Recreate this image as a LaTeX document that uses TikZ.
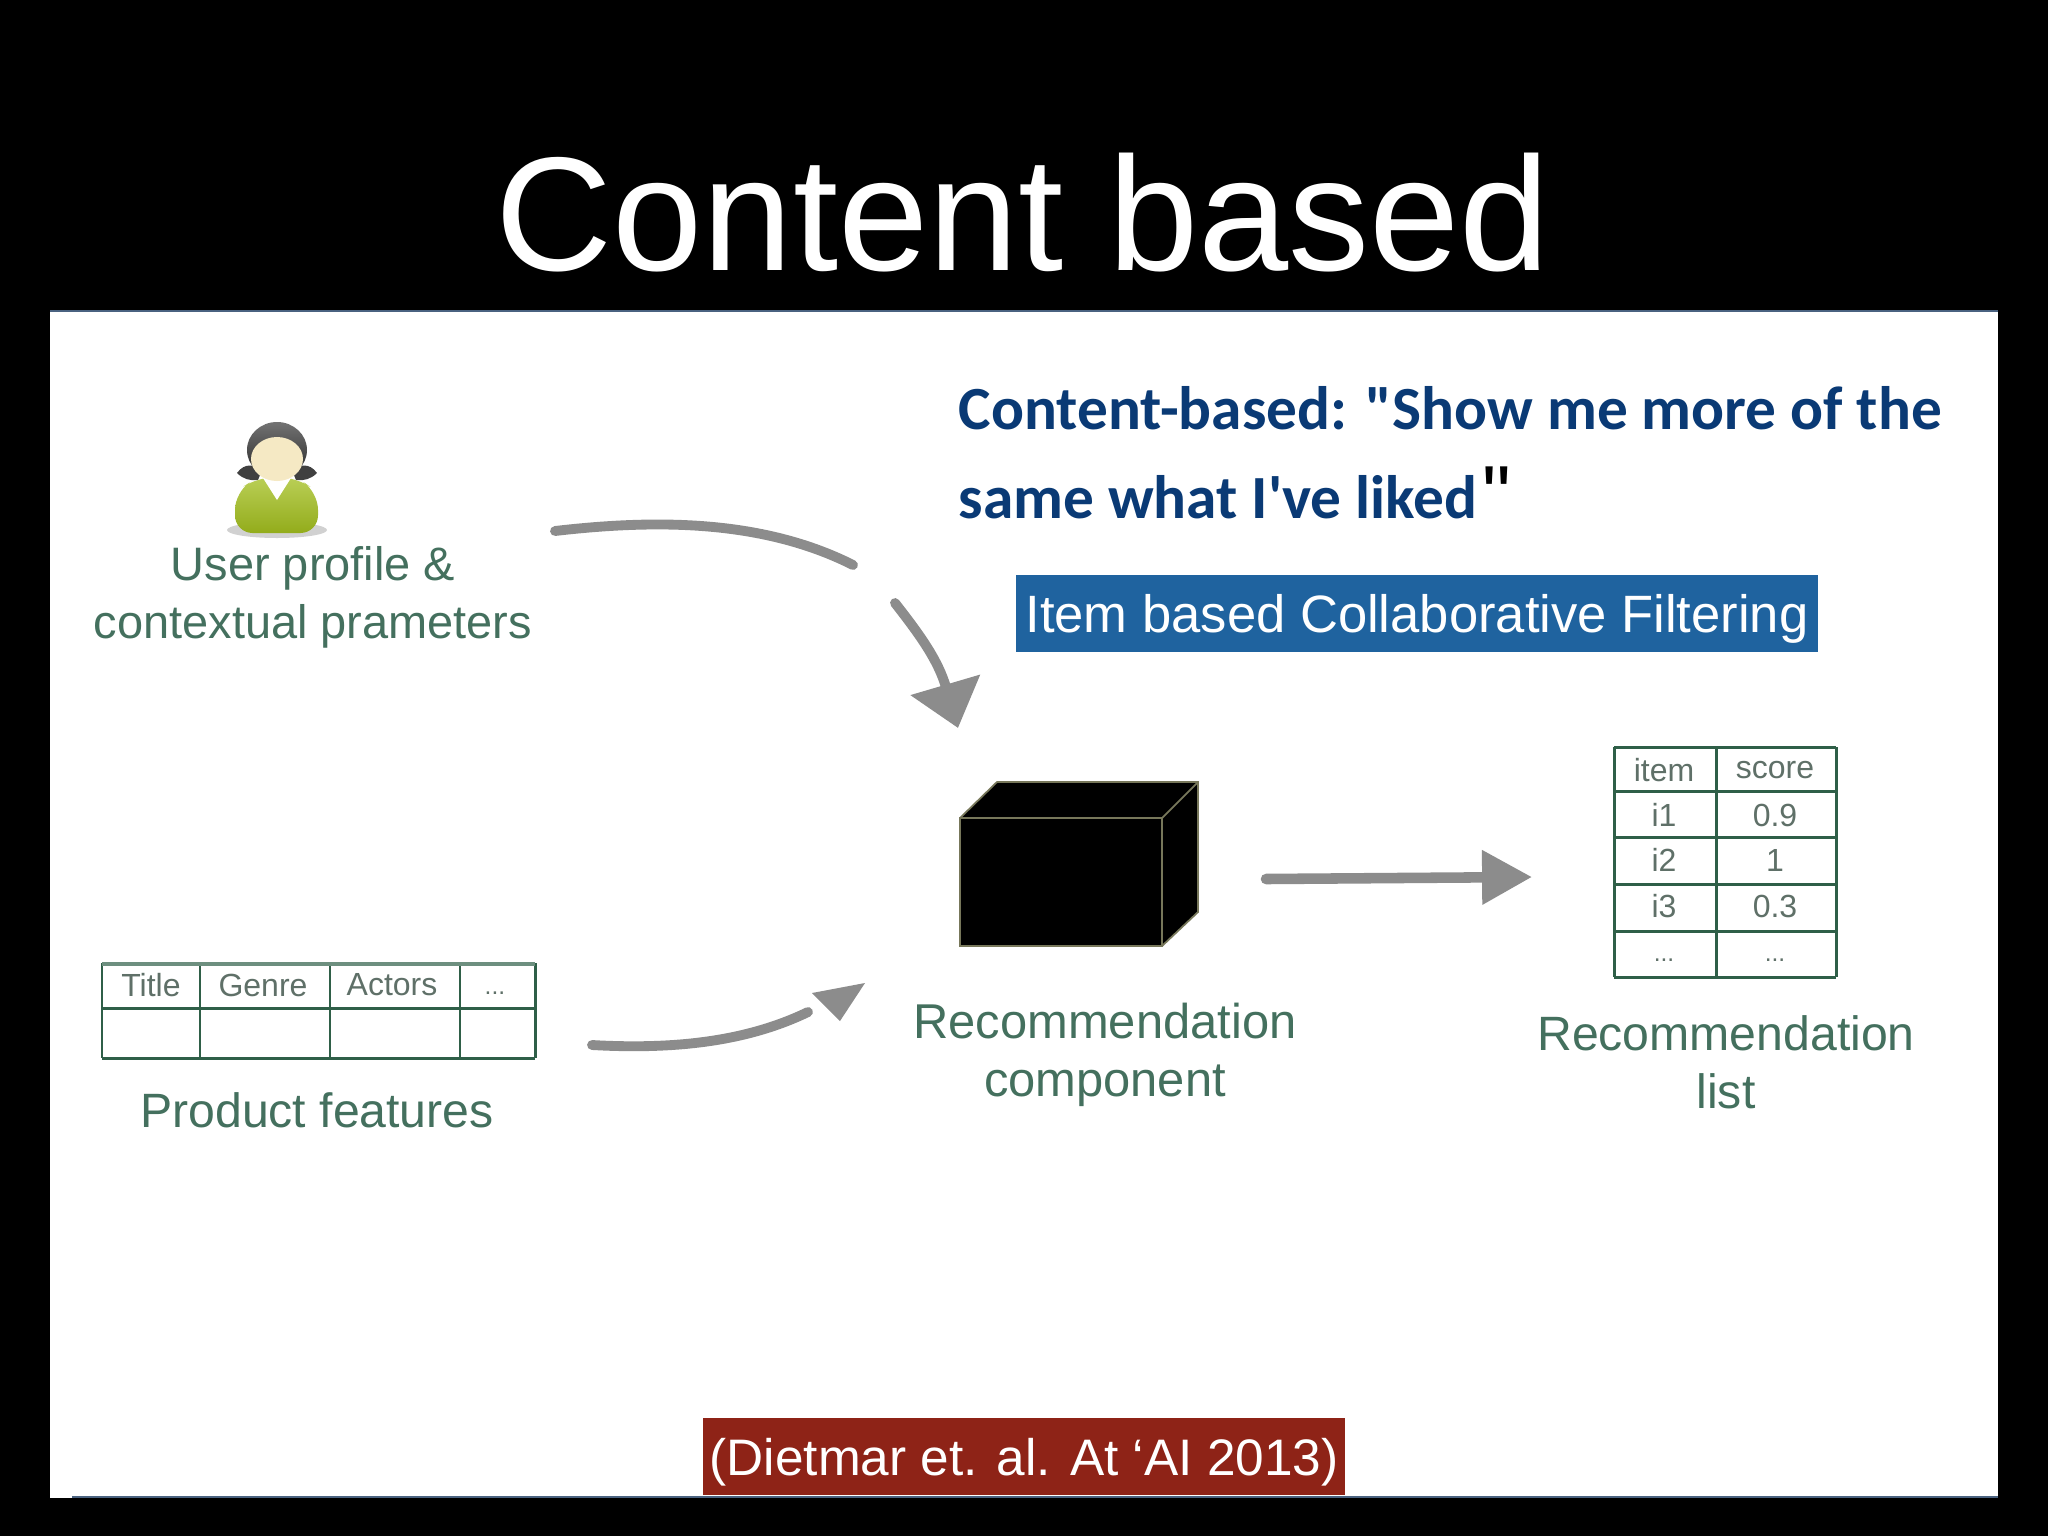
\documentclass[tikz,border=0pt]{standalone}
\usepackage{fontspec}
\setmainfont{Liberation Sans}
\newfontfamily\headfont{Carlito}
\newfontfamily\quotefont{Liberation Sans}
\usetikzlibrary{arrows.meta}
\definecolor{labelgreen}{HTML}{44705E}
\definecolor{cellgray}{HTML}{5F7068}
\definecolor{tablegreen}{HTML}{2F5F48}
\definecolor{flowgray}{HTML}{8C8C8C}
\definecolor{headnavy}{HTML}{0A3A75}
\definecolor{itemblue}{HTML}{1F639F}
\definecolor{citered}{HTML}{8E2317}
\definecolor{shirtgreen}{HTML}{A3BF1E}
\definecolor{skincream}{HTML}{F5E9C4}
\definecolor{rimblue}{HTML}{4A6280}
\definecolor{boxedge}{HTML}{77775A}
\tikzset{
  steplabel/.style={text=labelgreen, align=center, font=\fontsize{13.7}{16.5}\selectfont},
  celltext/.style={text=cellgray, font=\fontsize{9.1}{11}\selectfont},
  celldots/.style={text=cellgray, font=\fontsize{7}{9}\selectfont},
  tableline/.style={draw=tablegreen, line width=0.85pt},
  flowline/.style={draw=flowgray, line width=2.8pt, line cap=round},
  headtext/.style={anchor=base west, inner sep=0pt, text=headnavy, font=\headfont\bfseries\fontsize{17.45}{20}\selectfont},
  bannertext/.style={text=white, inner sep=0pt},
  boxline/.style={draw=boxedge, line width=0.5pt}
}
\begin{document}
\begin{tikzpicture}[x=0.01cm, y=-0.01cm]

  % Draw slide background
  \fill[black] (0,0) rectangle (2048,1536);
  \fill[white] (50,311) rectangle (1998,1498);
  \draw[draw=rimblue, line width=0.5pt] (50,311) -- (1998,311);
  \draw[draw=rimblue, line width=0.5pt] (72,1497) -- (1998,1497);
  \useasboundingbox (0,0) rectangle (2048,1536);

  % Draw title
  \node (title) at (1023,213) [text=white, font=\fontsize{46.1}{50}\selectfont] {Content based};

  % Draw heading
  \node (headone) at (958,429) [headtext] {Content-based: "Show me more of the};
  \node (headtwo) at (958,518) [headtext] {same what I've liked};
  \node (headquote) at (1482,522) [anchor=base west, inner sep=0pt, text=black, font=\quotefont\fontsize{23}{28}\selectfont] {"};

  % Draw banners
  \fill[itemblue] (1016,575) rectangle (1818,652);
  \node (itembased) at (1417,619) [bannertext, font=\fontsize{14.95}{18}\selectfont] {Item based Collaborative Filtering};
  \fill[citered] (703,1418) rectangle (1345,1495);
  \node (citation) at (1024,1462) [bannertext, font=\fontsize{14.6}{18}\selectfont] {(Dietmar et. al. At ‘AI 2013)};

  % Draw user icon
  \fill[black!18] (277,530) ellipse [x radius=50, y radius=8];
  \fill[black!75] (237,473) .. controls (245,462) and (255,465) .. (262,470) -- (258,480) .. controls (250,481) and (243,479) .. (237,473);
  \fill[black!75] (317,473) .. controls (309,462) and (299,465) .. (292,470) -- (296,480) .. controls (304,481) and (311,479) .. (317,473);
  \shade[top color=shirtgreen!75!white, bottom color=shirtgreen!90!black, rounded corners=5pt] (235,533) -- (235,492) -- (258,477) -- (296,477) -- (318,492) -- (318,533) -- cycle;
  \fill[white] (263,478) -- (291,478) -- (277,500) -- cycle;
  \shade[top color=black!55, bottom color=black!85] (277,450) ellipse [x radius=30, y radius=28];
  \fill[skincream] (277,459) ellipse [x radius=26, y radius=22];
  \node (userlabel) at (313,597) [steplabel, font=\fontsize{13.35}{16.5}\selectfont] {User profile \&\\contextual prameters};

  % Draw product table
  \foreach \x in {102,200,330,460,535} {
    \draw[tableline] (\x,963) -- (\x,1058);
  }
  \foreach \y in {1008,1058} {
    \draw[tableline] (102,\y) -- (535,\y);
  }
  \draw[draw=tablegreen!70, line width=1.2pt] (102,964) -- (535,964);
  \node (ptitle) at (151,985) [celltext] {Title};
  \node (pgenre) at (263,985) [celltext] {Genre};
  \node (pactors) at (392,985) [celltext] {Actors};
  \node (pdots) at (495,993) [celldots] {...};
  \node (productlabel) at (317,1110) [steplabel] {Product features};

  % Draw black box
  \fill[black] (960,818) -- (997,782) -- (1198,782) -- (1198,912) -- (1162,946) -- (960,946) -- cycle;
  \draw[boxline] (960,946) -- (960,818) -- (1162,818) -- (1162,946) -- cycle;
  \draw[boxline] (960,818) -- (997,782) -- (1198,782) -- (1198,912) -- (1162,946);
  \draw[boxline] (1162,818) -- (1198,782);
  \node (boxlabel) at (1105,1055) [steplabel, font=\fontsize{13.9}{16.5}\selectfont] {Recommendation\\component};

  % Draw list table
  \foreach \x in {1614,1716,1836} {
    \draw[tableline] (\x,747) -- (\x,977);
  }
  \foreach \y in {747,791,837,884,931,977} {
    \draw[tableline] (1614,\y) -- (1836,\y);
  }
  \foreach \i/\j/\s/\t in {a/770/item/score, b/815/i1/0.9, c/860/i2/1, d/906/i3/0.3} {
    \node (item\i) at (1664,\j) [celltext] {\s};
    \node (score\i) at (1775,\j) [celltext] {\t};
  }
  \node (iteme) at (1664,960) [celldots] {...};
  \node (scoree) at (1775,960) [celldots] {...};
  \node (listlabel) at (1726,1062) [steplabel] {Recommendation\\list};

  % Draw flow arrows
  \coordinate (userstart) at (555,531);
  \coordinate (usermid) at (853,565);
  \coordinate (userresume) at (895,603);
  \coordinate (userend) at (958,728);
  \coordinate (prodstart) at (592,1045);
  \coordinate (prodmid) at (808,1012);
  \coordinate (prodbasea) at (812,993);
  \coordinate (prodbaseb) at (840,1021);
  \coordinate (prodend) at (865,983);
  \coordinate (boxstart) at (1266,879);
  \coordinate (listend) at (1532,877);
  \draw[flowline] (userstart) .. controls (650,520) and (760,518) .. (usermid);
  \draw[flowline, -{Triangle[length=12.8pt, width=20pt]}] (userresume) .. controls (920,635) and (938,660) .. (userend);
  \draw[flowline] (prodstart) .. controls (680,1050) and (750,1040) .. (prodmid);
  \fill[flowgray] (prodbasea) -- (prodend) -- (prodbaseb) -- cycle;
  \draw[flowline, line width=3pt, -{Triangle[length=14.2pt, width=14.8pt]}] (boxstart) -- (listend);

\end{tikzpicture}
\end{document}
